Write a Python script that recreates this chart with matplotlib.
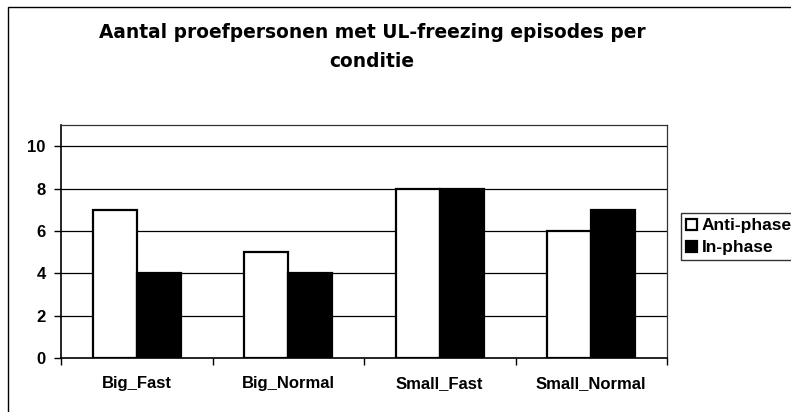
import matplotlib
matplotlib.use("Agg")
import matplotlib.pyplot as plt
from matplotlib.patches import Rectangle
import numpy as np

plt.rcParams['font.family'] = ['Liberation Sans', 'DejaVu Sans']

categories = ["Big_Fast", "Big_Normal", "Small_Fast", "Small_Normal"]
series_names = ["Anti-phase", "In-phase"]
anti_phase = [7, 5, 8, 6]
in_phase = [4, 4, 8, 7]
y_ticks = [0, 2, 4, 6, 8, 10]
title = "Aantal proefpersonen met UL-freezing episodes per\nconditie"

W, H = 791, 412
fig = plt.figure(figsize=(W / 100, H / 100), dpi=100)
fig.patch.set_facecolor("white")

# outer chart frame
fig.add_artist(Rectangle((8 / W, -0.05), 1.0, 1 - 7 / H + 0.05,
                         transform=fig.transFigure, fill=False,
                         edgecolor="black", linewidth=1.0))

ax = fig.add_axes([61 / W, (H - 358) / H, 606 / W, 233 / H])
x = np.arange(len(categories))
bw = 0.29
ax.bar(x - bw / 2, anti_phase, bw, color="white", edgecolor="black",
       linewidth=1.6, label=series_names[0], zorder=3)
ax.bar(x + bw / 2, in_phase, bw, color="black", edgecolor="black",
       linewidth=1.6, label=series_names[1], zorder=3)

ax.set_xlim(-0.5, len(categories) - 0.5)
ax.set_ylim(0, 11)
ax.set_yticks(y_ticks)
ax.set_yticklabels([str(t) for t in y_ticks], fontsize=12, fontweight="bold")
for t in y_ticks[1:]:
    ax.axhline(t, color="black", linewidth=0.9, zorder=1)

ax.set_xticks(np.arange(-0.5, len(categories) - 0.4, 1.0))
ax.set_xticklabels([])
ax.set_xticks(x, minor=True)
ax.set_xticklabels(categories, minor=True, fontsize=12, fontweight="bold")
ax.tick_params(axis="x", which="major", direction="out", length=5, width=1)
ax.tick_params(axis="x", which="minor", length=0, pad=13)
ax.tick_params(axis="y", direction="out", length=5, width=1, pad=6)

for s in ["left", "bottom"]:
    ax.spines[s].set_linewidth(1.2)
for s in ["top", "right"]:
    ax.spines[s].set_linewidth(0.9)
    ax.spines[s].set_color("#333333")

fig.text(372 / W, 1 - 47 / H, title, ha="center", va="center",
         fontsize=13.4, fontweight="bold", family=["DejaVu Sans"],
         linespacing=1.65)

leg = fig.legend(loc="upper left", bbox_to_anchor=(681 / W, 1 - 213 / H),
                 frameon=True, fancybox=False, edgecolor="black",
                 prop={"size": 12.5, "weight": "bold"}, handlelength=0.6,
                 handleheight=0.6, handletextpad=0.3, borderpad=0.3,
                 labelspacing=0.4, borderaxespad=0)
leg.get_frame().set_linewidth(1.0)

fig.savefig("out.png", dpi=100, facecolor="white")
